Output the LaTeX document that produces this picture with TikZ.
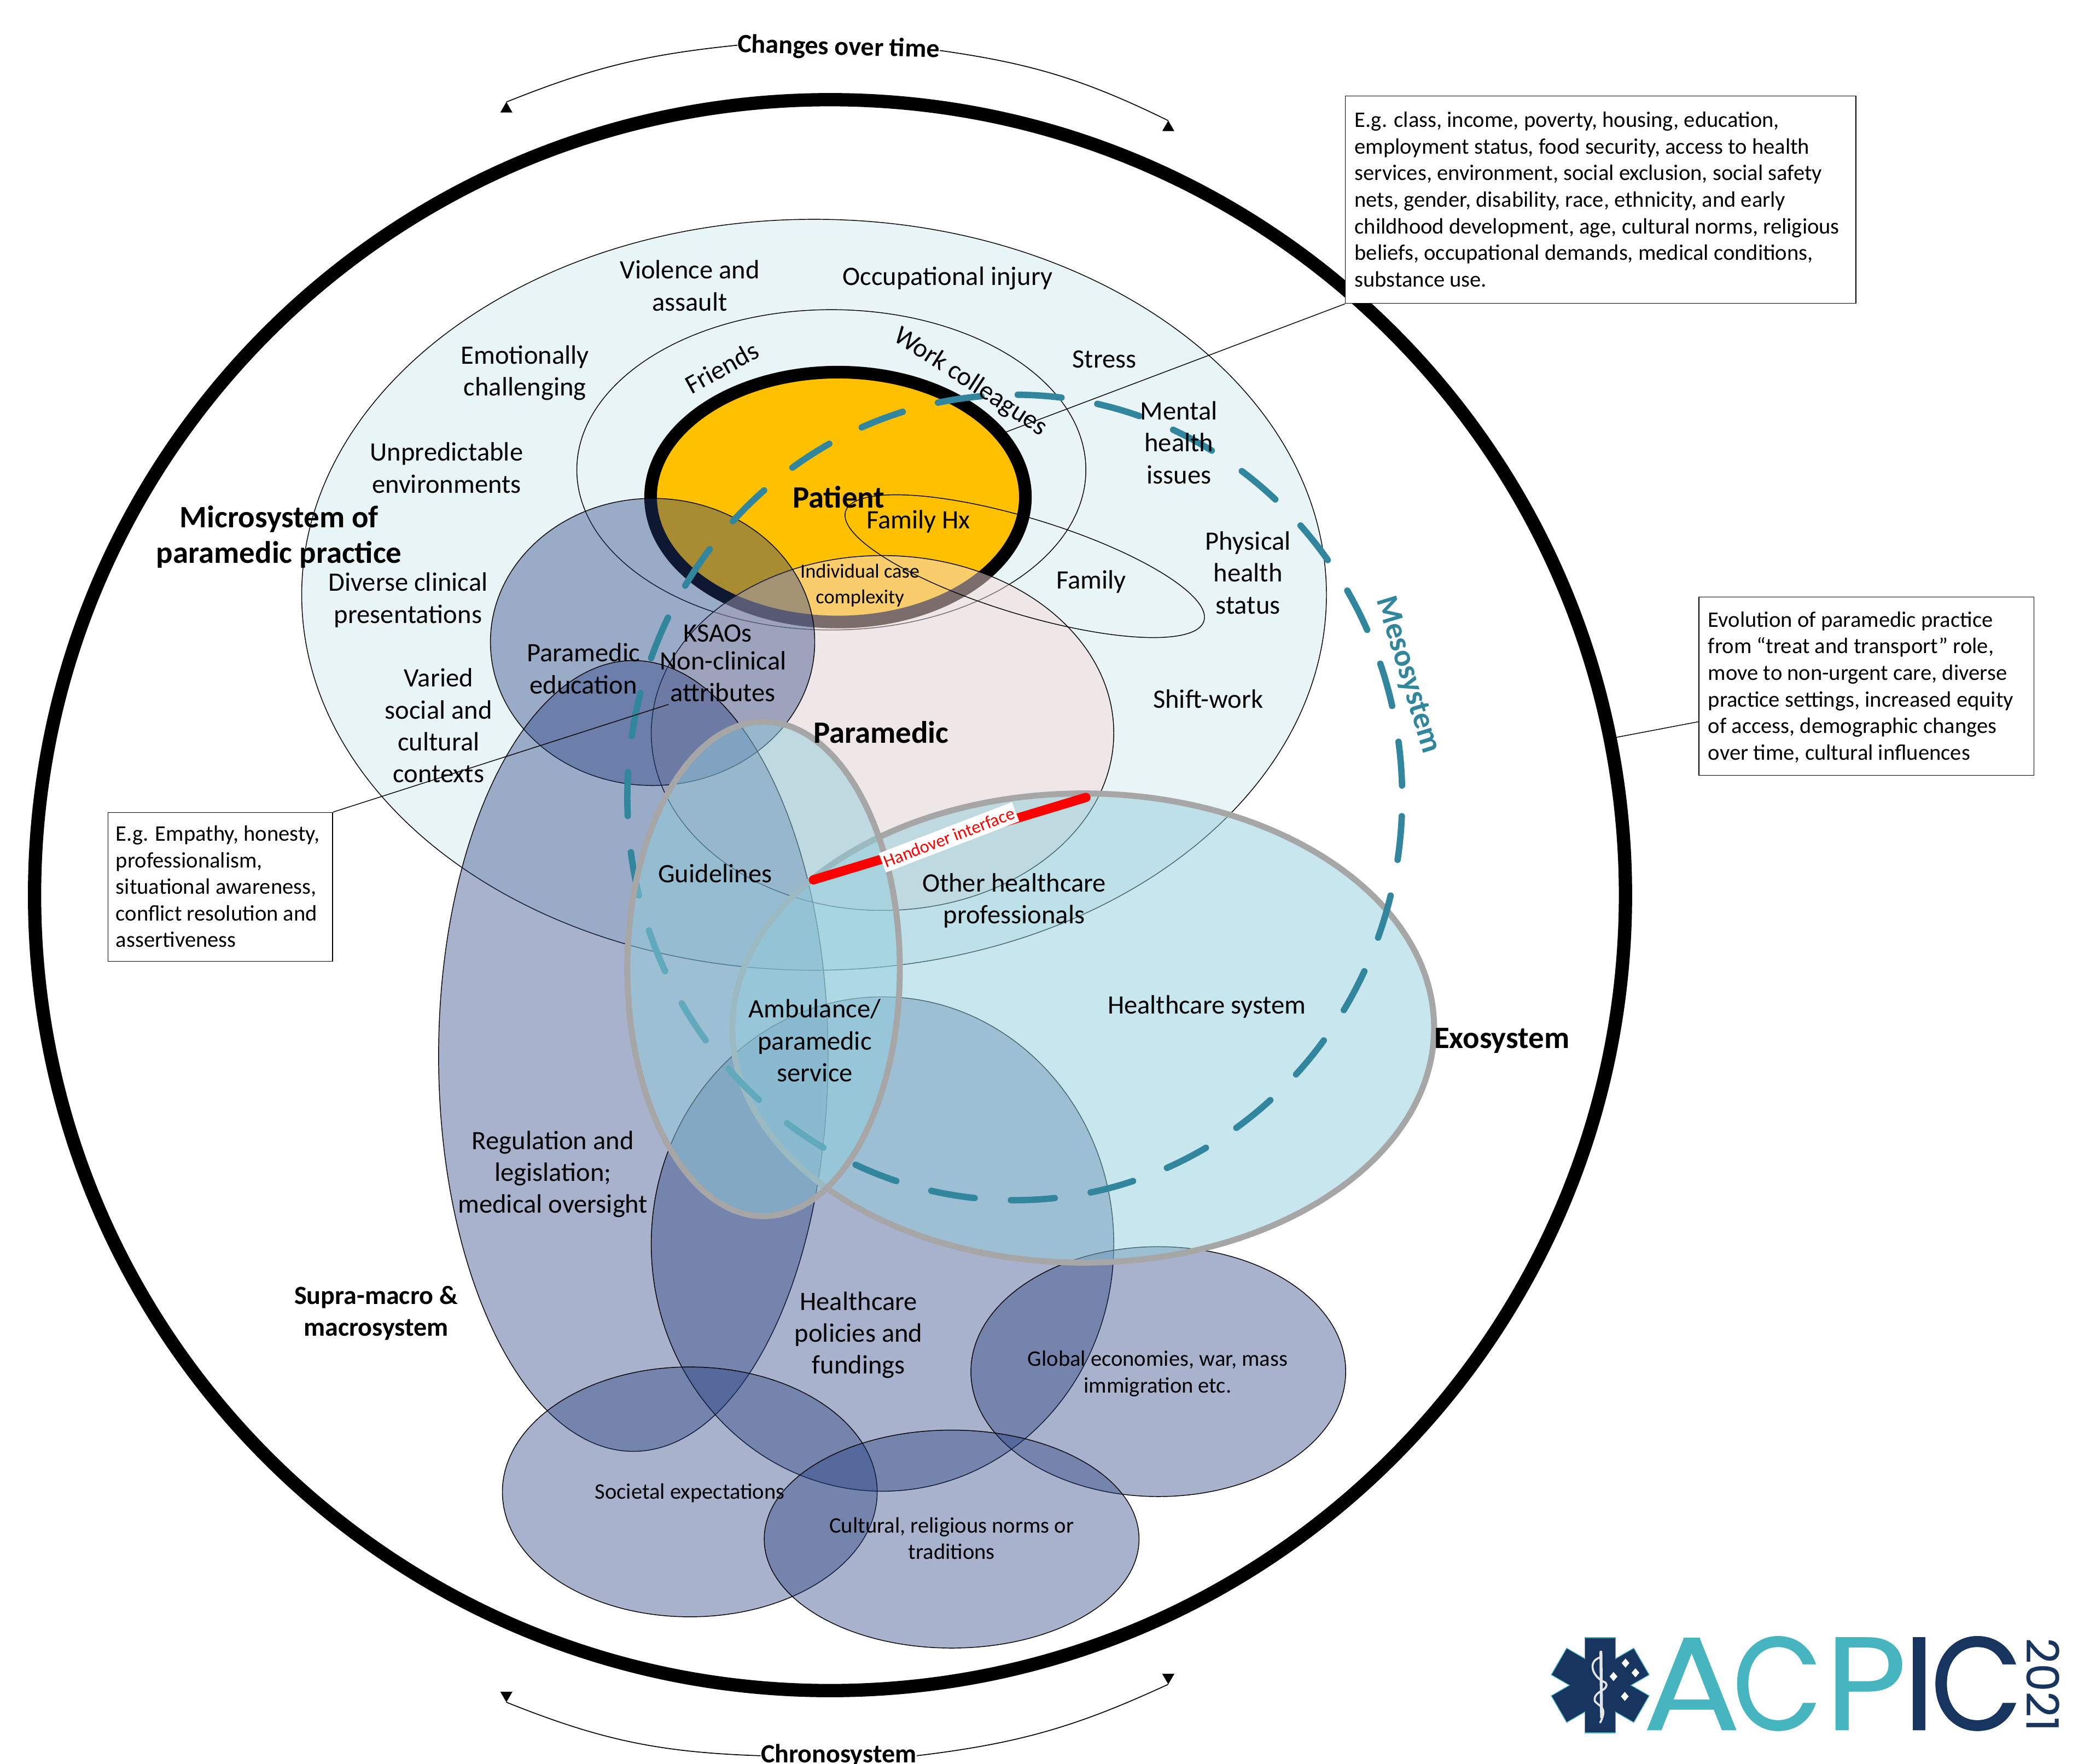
\documentclass[tikz,border=0pt]{standalone}
\usepackage{fontspec}
\usepackage{xcolor}
\usetikzlibrary{shapes,positioning,calc}
\setmainfont{Carlito}
\newfontfamily\logofont[FakeBold=0.3]{Poppins}
\definecolor{micfill}{HTML}{E9F4F7}
\definecolor{patfill}{HTML}{FFC000}
\definecolor{parfill}{HTML}{F4DAD8}
\definecolor{navyfill}{HTML}{253E7F}
\definecolor{exofill}{HTML}{92CDDC}
\definecolor{mesoline}{HTML}{31859C}
\definecolor{rimgrey}{HTML}{A6A6A6}
\definecolor{logoteal}{HTML}{46B5C0}
\definecolor{logonavy}{HTML}{17355E}
\tikzset{
  sys/.style={ellipse, draw, inner sep=0pt, outer sep=0pt, line width=0.6pt},
  navysys/.style={sys, fill=navyfill, fill opacity=0.4},
  exosys/.style={sys, draw=rimgrey, line width=4.5pt, fill=exofill, fill opacity=0.5},
  lab/.style={align=center, inner sep=0pt, yshift=-1.5pt, font=\fontsize{20}{24}\selectfont},
  blab/.style={align=center, inner sep=0pt, font=\fontsize{23.4}{27}\selectfont\bfseries},
  tlab/.style={blab, font=\fontsize{19.8}{24}\selectfont\bfseries},
  slab/.style={align=center, inner sep=0pt, yshift=-1.5pt, font=\fontsize{16.7}{20}\selectfont},
  callout/.style={rectangle, draw, fill=white, line width=0.6pt, anchor=north west},
  boxtxt/.style={slab, align=left, anchor=west},
  link/.style={line width=0.6pt},
  timearrow/.style={line width=0.7pt},
  tiptri/.style={regular polygon, regular polygon sides=3, fill=black, inner sep=0pt, outer sep=0pt, minimum size=10.5pt},
  logoletter/.style={inner sep=0pt, anchor=base, font=\logofont\fontsize{100}{100}\selectfont}
}
\begin{document}
\begin{tikzpicture}[x=1pt, y=-1pt]
\useasboundingbox (0,0) rectangle (1568,1327);

\node[sys, line width=10pt, minimum width=1197pt, minimum height=1197pt] (chrono) at (624.5,673.5) {};

\node[sys, fill=micfill, minimum width=771pt, minimum height=565pt] (mic) at (612.5,447.5) {};
\node[sys, minimum width=383pt, minimum height=241pt] (soc) at (625.5,353.5) {};
\node[sys, line width=9.5pt, fill=patfill, minimum width=282pt, minimum height=188pt] (pat) at (630.5,374) {};
\node[sys, fill=parfill, fill opacity=0.5, minimum width=348pt, minimum height=267pt] (par) at (664,551.5) {};
\node[navysys, minimum width=244pt, minimum height=216pt] (ksa) at (491,483) {};
\node[sys, rotate=-17, minimum width=282pt, minimum height=72pt] (fam) at (771,426) {};

\node[navysys, minimum width=293pt, minimum height=595pt] (reg) at (476.5,794.5) {};
\node[navysys, minimum width=348pt, minimum height=372pt] (pol) at (664,936) {};
\node[navysys, minimum width=282pt, minimum height=188pt] (glo) at (871.5,1032) {};
\node[exosys, minimum width=528pt, minimum height=353pt] (exo) at (815,773.5) {};

\node[ellipse, draw=mesoline, line width=4.8pt, line cap=round, dash pattern=on 33pt off 27.4pt, dash phase=51.4pt, inner sep=0pt, minimum width=583pt, minimum height=606pt] (mes) at (763.5,600) {};

\node[exosys, minimum width=205pt, minimum height=372pt] (amb) at (574.5,729) {};
\node[navysys, minimum width=282pt, minimum height=188pt] (soe) at (519,1122.5) {};
\node[navysys, minimum width=282pt, minimum height=164pt] (cul) at (716,1158) {};

\coordinate (hoa) at (612,662);
\coordinate (hob) at (817,600);
\draw[red, line width=7pt, line cap=round] (hoa) -- (hob);
\node[fill=white, text=red, inner xsep=1.5pt, inner ysep=3pt, rotate=21, font=\fontsize{13.4}{15}\selectfont] (hand) at (714,630) {Handover interface};

\node[callout, minimum width=384pt, minimum height=156pt] (social) at (1012,72) {};
\node[boxtxt] (socialtxt) at (1019,148.5) {E.g. class, income, poverty, housing, education,\\employment status, food security, access to health\\services, environment, social exclusion, social safety\\nets, gender, disability, race, ethnicity, and early\\childhood development, age, cultural norms, religious\\beliefs, occupational demands, medical conditions,\\substance use.};
\node[callout, minimum width=252pt, minimum height=134pt] (evol) at (1278,449) {};
\node[boxtxt] (evoltxt) at (1285,515.5) {Evolution of paramedic practice\\from “treat and transport” role,\\move to non-urgent care, diverse\\practice settings, increased equity\\of access, demographic changes\\over time, cultural influences};
\node[callout, minimum width=169pt, minimum height=112pt] (empathy) at (81,611) {};
\node[boxtxt] (empathytxt) at (87,665.5) {E.g. Empathy, honesty,\\professionalism,\\situational awareness,\\conflict resolution and\\assertiveness};

\coordinate (socend) at (757,325);
\coordinate (evolend) at (1215,555);
\coordinate (empend) at (503,530);
\coordinate (evolstart) at (1278,543);
\draw[link] (social.south west) -- (socend);
\draw[link] (evolstart) -- (evolend);
\draw[link] (empathy.north east) -- (empend);

\node[tlab, rotate=-1.5] (chg) at (631,36) {Changes over time};
\node[tlab] (chr) at (631,1321) {Chronosystem};
\node[tiptri] (tla) at (381,82) {};
\node[tiptri] (tra) at (879,96) {};
\node[tiptri, shape border rotate=180] (bla) at (381,1275.5) {};
\node[tiptri, shape border rotate=180] (bra) at (879,1262) {};
\draw[timearrow] (chg.west) to[bend right=8] (tla.corner 1);
\draw[timearrow] (chg.east) to[bend left=9] (tra.corner 1);
\draw[timearrow] (chr.west) to[bend left=10] (bla.corner 1);
\draw[timearrow] (chr.east) to[bend right=9] (bra.corner 1);

\node[lab] (vio) at (519,213.5) {Violence and\\assault};
\node[lab] (occ) at (713,208) {Occupational injury};
\node[lab] (emo) at (395,279) {Emotionally\\challenging};
\node[lab] (str) at (831,269) {Stress};
\node[lab] (men) at (887,331.5) {Mental\\health\\issues};
\node[lab] (unp) at (336,350.5) {Unpredictable\\environments};
\node[lab, rotate=29] (fri) at (543,275) {Friends};
\node[lab, rotate=-33] (wor) at (730,286) {Work colleagues};
\node[blab] (patl) at (631,374) {Patient};
\node[lab] (hx) at (691,391) {Family Hx};
\node[slab, font=\fontsize{15}{19}\selectfont] (ind) at (647,439) {Individual case\\complexity};
\node[lab] (faml) at (821,436) {Family};
\node[lab] (phy) at (939,429.5) {Physical\\health\\status};
\node[blab] (micl) at (210,404) {Microsystem of\\paramedic practice};
\node[lab] (div) at (307,450) {Diverse clinical\\presentations};
\node[lab] (var) at (330,544.5) {Varied\\social and\\cultural\\contexts};
\node[lab] (edu) at (439,501.5) {Paramedic\\education};
\node[lab] (ksl) at (540,475) {KSAOs};
\node[lab] (nonl) at (544,507.5) {Non-clinical\\attributes};
\node[blab] (parl) at (663,551) {Paramedic};
\node[lab] (shi) at (909,524.5) {Shift-work};
\node[blab, text=mesoline, rotate=-73] (mesl) at (1059,508) {Mesosystem};
\node[lab] (gui) at (538,655.5) {Guidelines};
\node[lab] (oth) at (763,676) {Other healthcare\\professionals};
\node[lab] (hea) at (908,756) {Healthcare system};
\node[blab] (exol) at (1130,783) {Exosystem};
\node[lab] (ambl) at (613,781.5) {Ambulance/\\paramedic\\service};
\node[lab] (regl) at (416,882) {Regulation and\\legislation;\\medical oversight};
\node[tlab] (sup) at (283,988) {Supra-macro \&\\macrosystem};
\node[lab] (poll) at (646,1003) {Healthcare\\policies and\\fundings};
\node[slab] (glol) at (871,1032) {Global economies, war, mass\\immigration etc.};
\node[slab] (soel) at (519,1122) {Societal expectations};
\node[slab] (cull) at (716,1156) {Cultural, religious norms or\\traditions};

\foreach \a in {0,60,120} \node[rectangle, draw=logoteal, line width=1.2pt, minimum width=22.5pt, minimum height=71pt, inner sep=0pt, rotate=\a] (bar\a) at (1204,1268) {};
\foreach \a in {0,60,120} \node[rectangle, fill=logonavy, minimum width=22.5pt, minimum height=71pt, inner sep=0pt, rotate=\a] (core\a) at (1204,1268) {};
\draw[white!90!black, line width=2.2pt, line cap=round] (1204.5,1243) -- (1205,1292);
\draw[white!90!black, line width=1.5pt, line cap=round] (1204,1247) .. controls (1194,1250) and (1198,1262) .. (1208,1266) .. controls (1212,1272) and (1198,1272) .. (1200,1280) .. controls (1203,1284) and (1210,1284) .. (1204,1296);
\foreach \x/\y/\n in {1223/1251.3/a,1230.5/1258.6/b,1214/1261.4/c,1222.5/1276.4/d} \node[diamond, fill=white, inner sep=0pt, minimum width=6pt, minimum height=7pt] (dot\n) at (\x,\y) {};

\node[logoletter, text=logoteal] (la) at (1272.8,1301.7) {\scalebox{1.1}[1]{A}};
\node[logoletter, text=logoteal] (lc) at (1337.3,1301.7) {\scalebox{0.88}[1]{C}};
\node[logoletter, text=logoteal] (lp) at (1403.9,1301.7) {\scalebox{1.07}[1]{P}};
\node[logoletter, text=logonavy] (li) at (1444,1301.7) {I};
\node[logoletter, text=logonavy] (lk) at (1487.2,1301.7) {\scalebox{0.9}[1]{C}};
\node[inner sep=0pt, rotate=-90, text=logonavy, font=\logofont\fontsize{33.5}{33.5}\selectfont] (yr) at (1537,1267.5) {2021};
\end{tikzpicture}
\end{document}
